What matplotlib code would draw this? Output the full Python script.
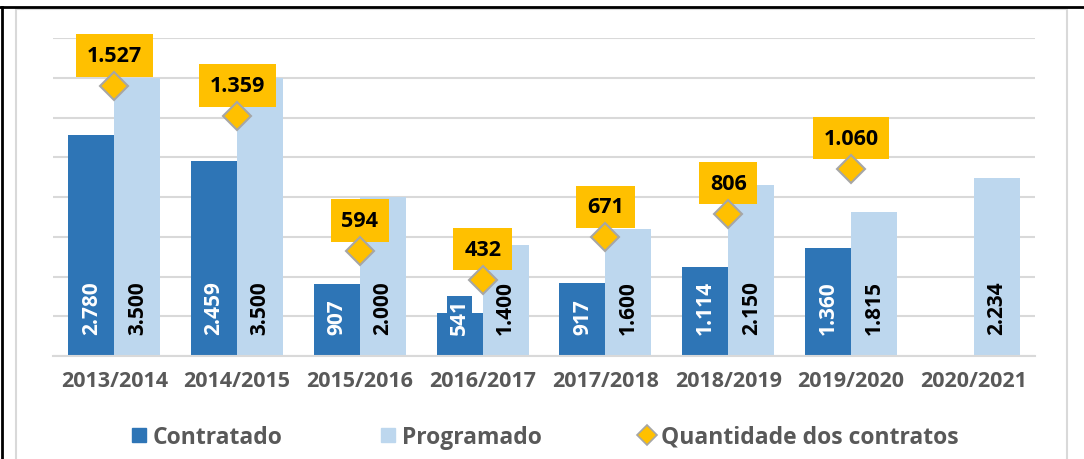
import numpy as np
import matplotlib.pyplot as plt
from matplotlib.lines import Line2D
from matplotlib.patches import Patch, Rectangle

anos = ['2013/2014', '2014/2015', '2015/2016', '2016/2017',
        '2017/2018', '2018/2019', '2019/2020', '2020/2021']
contratado = [2780, 2459, 907, 541, 917, 1114, 1360, np.nan]
programado = [3500, 3500, 2000, 1400, 1600, 2150, 1815, 2234]
quantidade = [1527, 1359, 594, 432, 671, 806, 1060, np.nan]

azul = '#2E75B6'
azul_claro = '#BDD7EE'
ouro = '#FFC000'
cinza = '#595959'

plt.rcParams['font.family'] = ['Open Sans', 'DejaVu Sans']
plt.rcParams['font.weight'] = 'bold'


def fmt(v):
    return '{:,.0f}'.format(v).replace(',', '.')


fig = plt.figure(figsize=(10.84, 4.6), dpi=100)
ax = fig.add_axes([0.0489, 0.2239, 0.906, 0.6913])

x = np.arange(len(anos))
w = 0.375
ax.bar(x - w / 2, contratado, w, color=azul, zorder=2)
ax.bar(x + w / 2, programado, w, color=azul_claro, zorder=2)

ax.set_ylim(0, 4000)
ax.set_xlim(-0.5, len(anos) - 0.5)
ax.set_yticks(np.arange(0, 4001, 500))
ax.yaxis.grid(True, color='#D9D9D9', lw=1.5, zorder=0)
ax.tick_params(axis='y', length=0, labelleft=False)
ax.tick_params(axis='x', length=0, pad=10)
ax.set_xticks(x)
ax.set_xticklabels(anos, fontsize=15.5, color=cinza, fontweight='bold')
for s in ax.spines.values():
    s.set_visible(False)
ax.spines['bottom'].set_visible(True)
ax.spines['bottom'].set_color('#D9D9D9')
ax.spines['bottom'].set_linewidth(1.5)

for i in range(len(anos)):
    if not np.isnan(contratado[i]):
        ax.annotate(fmt(contratado[i]), (x[i] - w / 2, 0), xytext=(0, 16),
                    textcoords='offset points', rotation=90, ha='center',
                    va='bottom', color='white', fontsize=15, fontweight='bold', zorder=4,
                    bbox=dict(boxstyle='square,pad=0.1', fc=azul, ec='none'))
    ax.annotate(fmt(programado[i]), (x[i] + w / 2, 0), xytext=(0, 16),
                textcoords='offset points', rotation=90, ha='center',
                va='bottom', color='black', fontsize=15, fontweight='bold', zorder=4)

ax2 = ax.twinx()
ax2.set_ylim(0, 1800)
ax2.axis('off')
ax2.plot(x, quantidade, ls='none', marker='D', markersize=14,
         markerfacecolor=ouro, markeredgecolor='#A6A6A6', markeredgewidth=1.5, zorder=5)
for i in range(len(anos)):
    if not np.isnan(quantidade[i]):
        ax2.annotate(fmt(quantidade[i]), (x[i], quantidade[i]), xytext=(0, 22),
                     textcoords='offset points', ha='center', va='center',
                     fontsize=15.5, fontweight='bold', color='black',
                     bbox=dict(boxstyle='square,pad=0.5', fc=ouro, ec='none'))

handles = [Patch(color=azul), Patch(color=azul_claro),
           Line2D([], [], ls='none', marker='D', markersize=10,
                  markerfacecolor=ouro, markeredgecolor='#A6A6A6', markeredgewidth=1.2)]
fig.legend(handles, ['Contratado', 'Programado', 'Quantidade dos contratos'],
           loc='center', bbox_to_anchor=(0.503, 0.048), ncol=3, frameon=False,
           prop={'size': 16.5, 'weight': 'bold'}, labelcolor=cinza,
           handlelength=0.6, handleheight=0.6, handletextpad=0.3, columnspacing=4.3)

# moldura
fig.add_artist(Rectangle((16 / 1084, -0.01), 1051 / 1084, 1 - 10 / 460 + 0.01,
                         transform=fig.transFigure, fill=False, ec='#D9D9D9', lw=1.5))
fig.add_artist(Line2D([0, 1], [1 - 8 / 460, 1 - 8 / 460], transform=fig.transFigure,
                      color='black', lw=2))
fig.add_artist(Line2D([2 / 1084, 2 / 1084], [0, 1 - 8 / 460], transform=fig.transFigure,
                      color='black', lw=2))

fig.savefig('out.png', dpi=100)
